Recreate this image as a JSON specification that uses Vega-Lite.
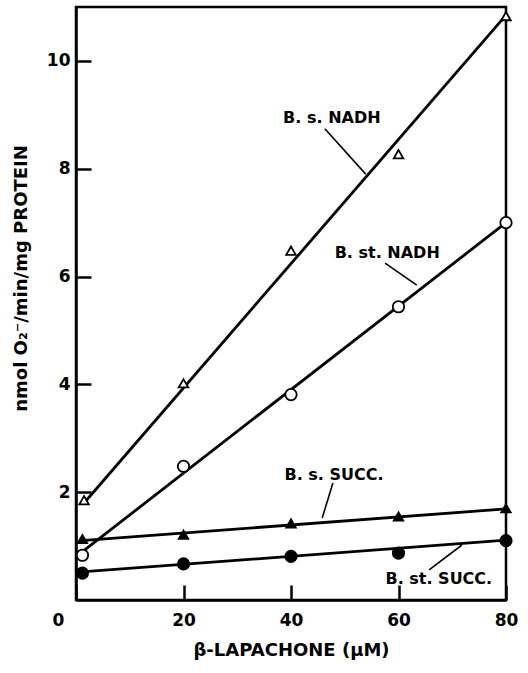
{
  "$schema": "https://vega.github.io/schema/vega-lite/v6.json",
  "width": 430,
  "height": 593,
  "autosize": {"type": "none"},
  "padding": {"left": 76, "top": 7, "right": 22, "bottom": 73},
  "background": "white",
  "config": {
    "view": {"stroke": "black", "strokeWidth": 2.5},
    "font": "DejaVu Sans",
    "axis": {
      "grid": false,
      "domainColor": "black",
      "domainWidth": 2.5,
      "tickColor": "black",
      "tickWidth": 2.5,
      "tickSize": -15,
      "labelFont": "DejaVu Sans",
      "labelFontWeight": "bold",
      "labelFontSize": 17,
      "labelColor": "black",
      "titleFont": "DejaVu Sans",
      "titleFontWeight": "bold",
      "titleColor": "black"
    }
  },
  "datasets": {
    "points": [
      {"organism": "B.s.", "substrate": "NADH", "conc": 1.5, "rate": 1.85},
      {"organism": "B.s.", "substrate": "NADH", "conc": 20, "rate": 4.02},
      {"organism": "B.s.", "substrate": "NADH", "conc": 40, "rate": 6.48},
      {"organism": "B.s.", "substrate": "NADH", "conc": 60, "rate": 8.27},
      {"organism": "B.s.", "substrate": "NADH", "conc": 80, "rate": 10.83},
      {"organism": "B.st.", "substrate": "NADH", "conc": 1.2, "rate": 0.83},
      {"organism": "B.st.", "substrate": "NADH", "conc": 20, "rate": 2.48},
      {"organism": "B.st.", "substrate": "NADH", "conc": 40, "rate": 3.81},
      {"organism": "B.st.", "substrate": "NADH", "conc": 60, "rate": 5.44},
      {"organism": "B.st.", "substrate": "NADH", "conc": 80, "rate": 7.0},
      {"organism": "B.s.", "substrate": "SUCC", "conc": 1.2, "rate": 1.13},
      {"organism": "B.s.", "substrate": "SUCC", "conc": 20, "rate": 1.21},
      {"organism": "B.s.", "substrate": "SUCC", "conc": 40, "rate": 1.42},
      {"organism": "B.s.", "substrate": "SUCC", "conc": 60, "rate": 1.55},
      {"organism": "B.s.", "substrate": "SUCC", "conc": 80, "rate": 1.7},
      {"organism": "B.st.", "substrate": "SUCC", "conc": 1.2, "rate": 0.5},
      {"organism": "B.st.", "substrate": "SUCC", "conc": 20, "rate": 0.67},
      {"organism": "B.st.", "substrate": "SUCC", "conc": 40, "rate": 0.81},
      {"organism": "B.st.", "substrate": "SUCC", "conc": 60, "rate": 0.87},
      {"organism": "B.st.", "substrate": "SUCC", "conc": 80, "rate": 1.1}
    ],
    "fits": [
      {"series": "B.s. NADH", "x1": 1.5, "y1": 1.8, "x2": 80, "y2": 10.85},
      {"series": "B.st. NADH", "x1": 1.5, "y1": 0.92, "x2": 80, "y2": 7.0},
      {"series": "B.s. SUCC", "x1": 1.0, "y1": 1.1, "x2": 80, "y2": 1.69},
      {"series": "B.st. SUCC", "x1": 1.0, "y1": 0.52, "x2": 80, "y2": 1.11}
    ],
    "leaders": [
      {"label": "B. s. NADH", "x1": 46.3, "y1": 8.74, "x2": 53.9, "y2": 7.9},
      {"label": "B. st. NADH", "x1": 57.5, "y1": 6.25, "x2": 63.4, "y2": 5.84},
      {"label": "B. s. SUCC.", "x1": 47.8, "y1": 2.17, "x2": 45.8, "y2": 1.52},
      {"label": "B. st. SUCC.", "x1": 65.7, "y1": 0.56, "x2": 71.8, "y2": 1.02}
    ],
    "labels": [
      {"label": "B. s. NADH", "lx": 47.6, "ly": 8.94},
      {"label": "B. st. NADH", "lx": 57.9, "ly": 6.44},
      {"label": "B. s. SUCC.", "lx": 48.0, "ly": 2.32},
      {"label": "B. st. SUCC.", "lx": 67.5, "ly": 0.39}
    ]
  },
  "layer": [
    {
      "data": {"name": "fits"},
      "mark": {"type": "rule", "color": "black", "strokeWidth": 2.8},
      "encoding": {
        "x": {
          "field": "x1", "type": "quantitative",
          "scale": {"domain": [0, 80], "nice": false, "zero": false},
          "axis": {
            "values": [0, 20, 40, 60, 80],
            "title": "β-LAPACHONE (μM)",
            "titleFontSize": 18,
            "titleY": 50,
            "titleBaseline": "middle",
            "labelPadding": 27,
            "labelFlush": false,
            "labelOffset": {"condition": {"test": "datum.value === 0", "value": -18}, "value": 0}
          }
        },
        "y": {
          "field": "y1", "type": "quantitative",
          "scale": {"domain": [0, 11], "nice": false, "zero": false},
          "axis": {
            "values": [2, 4, 6, 8, 10],
            "title": "nmol O₂⁻/min/mg PROTEIN",
            "titleFontSize": 18,
            "titleAngle": -90,
            "titleX": -55,
            "titleY": 271,
            "titleAlign": "center",
            "titleBaseline": "middle",
            "labelPadding": 21
          }
        },
        "x2": {"field": "x2"},
        "y2": {"field": "y2"}
      }
    },
    {
      "data": {"name": "leaders"},
      "mark": {"type": "rule", "color": "black", "strokeWidth": 1.6},
      "encoding": {
        "x": {"field": "x1", "type": "quantitative"},
        "y": {"field": "y1", "type": "quantitative"},
        "x2": {"field": "x2"},
        "y2": {"field": "y2"}
      }
    },
    {
      "data": {"name": "points"},
      "transform": [{"filter": "datum.organism === 'B.s.'"}],
      "mark": {"type": "point", "shape": "triangle-up", "size": 90, "filled": true, "opacity": 1, "stroke": "black", "strokeWidth": 1.8},
      "encoding": {
        "x": {"field": "conc", "type": "quantitative"},
        "y": {"field": "rate", "type": "quantitative"},
        "fill": {"field": "substrate", "type": "nominal", "scale": {"domain": ["NADH", "SUCC"], "range": ["white", "black"]}, "legend": null}
      }
    },
    {
      "data": {"name": "points"},
      "transform": [{"filter": "datum.organism === 'B.st.'"}],
      "mark": {"type": "point", "shape": "circle", "size": 130, "filled": true, "opacity": 1, "stroke": "black", "strokeWidth": 1.8},
      "encoding": {
        "x": {"field": "conc", "type": "quantitative"},
        "y": {"field": "rate", "type": "quantitative"},
        "fill": {"field": "substrate", "type": "nominal", "scale": {"domain": ["NADH", "SUCC"], "range": ["white", "black"]}, "legend": null}
      }
    },
    {
      "data": {"name": "labels"},
      "mark": {"type": "text", "font": "DejaVu Sans", "fontWeight": "bold", "fontSize": 16, "color": "black", "align": "center", "baseline": "middle"},
      "encoding": {
        "x": {"field": "lx", "type": "quantitative"},
        "y": {"field": "ly", "type": "quantitative"},
        "text": {"field": "label"}
      }
    }
  ]
}
